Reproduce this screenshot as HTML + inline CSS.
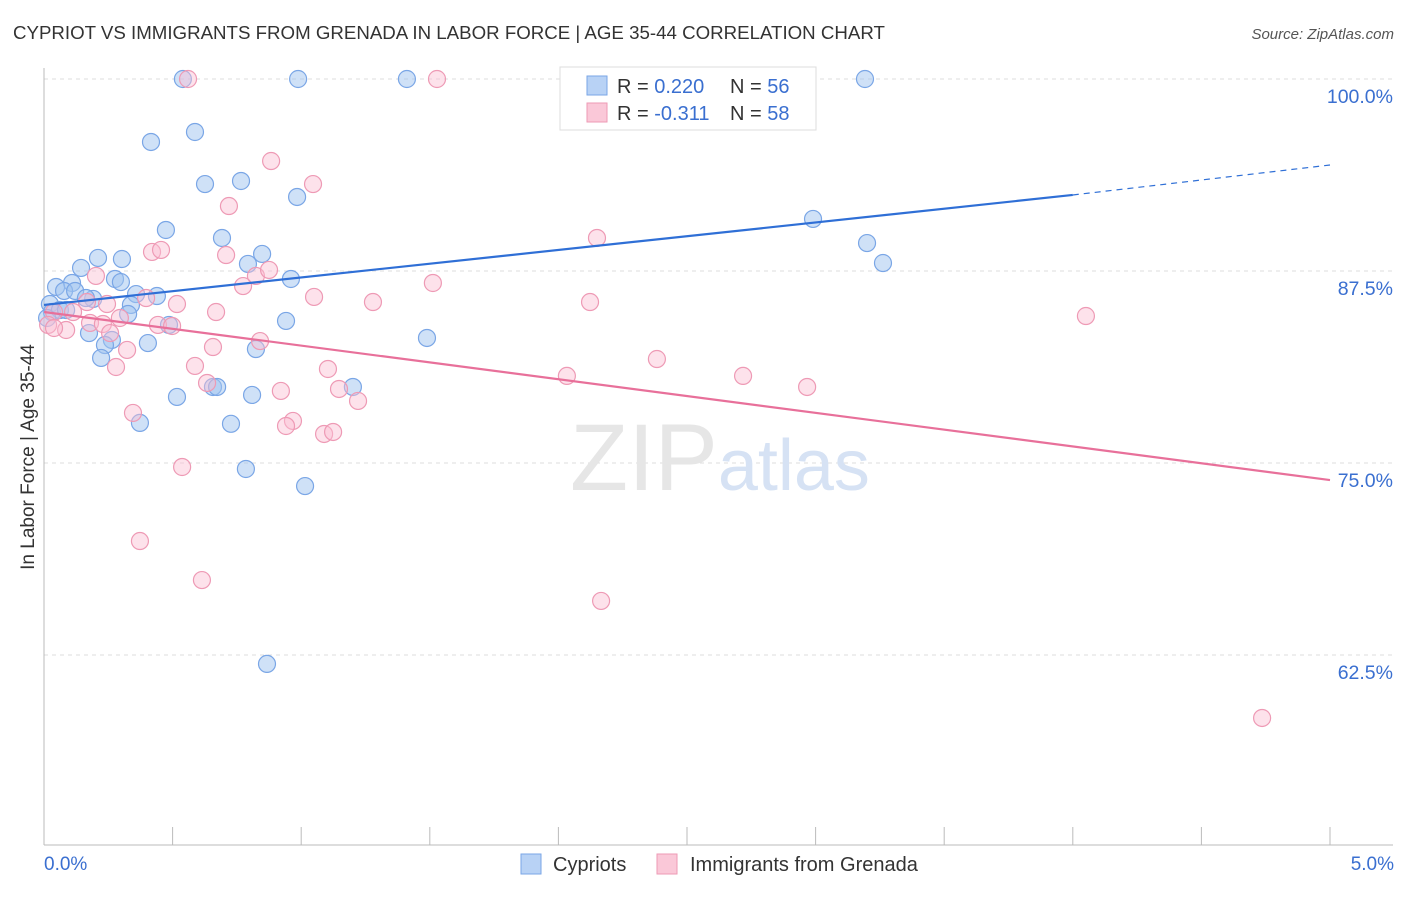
<!DOCTYPE html>
<html><head><meta charset="utf-8"><style>
body{margin:0;background:#fff;font-family:"Liberation Sans",sans-serif;}
svg text{font-family:"Liberation Sans",sans-serif;}
</style></head><body>
<svg id="chart" width="1406" height="892" xmlns="http://www.w3.org/2000/svg">
<text x="13" y="39" font-size="18.7" fill="#333">CYPRIOT VS IMMIGRANTS FROM GRENADA IN LABOR FORCE | AGE 35-44 CORRELATION CHART</text>
<text x="1394" y="39" font-size="15" fill="#555" text-anchor="end" font-style="italic">Source: ZipAtlas.com</text>
<g id="grid"></g>
<text x="720" y="490" font-size="95" text-anchor="middle" font-family="Liberation Serif" fill="#e6e6e6">ZIP<tspan fill="#d6e2f4" font-family="Liberation Sans" font-size="72">atlas</tspan></text>
<g id="axes"></g>
<g id="pts"></g>
<g id="lines"></g>
<text transform="translate(34,457) rotate(-90)" font-size="19" fill="#333" text-anchor="middle">In Labor Force | Age 35-44</text>
<text x="44" y="870" font-size="19" fill="#3a6fd0">0.0%</text>
<text x="1394" y="870" font-size="19" fill="#3a6fd0" text-anchor="end">5.0%</text>
<g>
<rect x="560" y="67" width="256" height="63" fill="#fff" stroke="#ddd"/>
<rect x="587" y="76" width="20" height="19" fill="#b8d2f5" stroke="#7aa6e6"/>
<text x="617" y="93" font-size="20" fill="#333">R = <tspan fill="#3a6fd0">0.220</tspan></text>
<text x="730" y="93" font-size="20" fill="#333">N = <tspan fill="#3a6fd0">56</tspan></text>
<rect x="587" y="103" width="20" height="19" fill="#fac8d8" stroke="#ee9ab5"/>
<text x="617" y="120" font-size="20" fill="#333">R = <tspan fill="#3a6fd0">-0.311</tspan></text>
<text x="730" y="120" font-size="20" fill="#333">N = <tspan fill="#3a6fd0">58</tspan></text>
</g>
<g>
<rect x="521" y="854" width="20" height="20" fill="#b8d2f5" stroke="#7aa6e6"/>
<text x="553" y="871" font-size="20" fill="#333">Cypriots</text>
<rect x="657" y="854" width="20" height="20" fill="#fac8d8" stroke="#ee9ab5"/>
<text x="690" y="871" font-size="20" fill="#333">Immigrants from Grenada</text>
</g>
</svg>
<script>
const yTicks=[100,87.5,75,62.5];
const yTickLabels=["100.0%","87.5%","75.0%","62.5%"];
const blueX=[0.540,0.988,1.411,3.192,0.416,0.587,0.626,0.766,0.984,0.474,0.692,0.848,0.210,0.303,0.144,0.793,0.960,0.276,0.299,0.109,0.047,0.078,0.121,0.191,0.163,0.358,0.439,0.338,0.327,0.023,0.031,0.062,0.086,0.486,0.175,0.941,0.264,0.404,0.237,0.222,0.824,1.489,0.657,0.673,1.201,0.517,0.809,0.373,0.727,0.785,1.015,0.867,2.990,3.200,3.262,0.012];
const blueY=[100,100,100,100,95.90,96.55,93.16,93.36,92.32,90.17,89.65,88.61,88.35,88.28,87.70,87.96,86.98,86.98,86.78,86.72,86.46,86.20,86.20,85.68,85.74,86.00,85.87,85.29,84.70,85.35,84.83,84.96,84.96,83.99,83.46,84.25,83.01,82.81,82.68,81.84,82.42,83.14,79.95,79.95,79.95,79.30,79.43,77.61,77.55,74.61,73.50,61.92,90.89,89.32,88.02,84.44];
const pinkX=[0.560,1.528,0.883,1.046,0.719,2.150,0.420,0.455,0.708,0.824,0.875,0.202,1.512,0.774,1.050,1.279,2.123,0.397,0.517,0.167,0.245,0.113,0.039,0.669,0.295,0.179,0.229,0.443,0.498,0.086,0.257,0.840,0.657,0.323,2.383,0.280,0.587,1.104,2.033,2.718,2.967,0.634,0.921,1.147,1.221,0.346,0.968,0.941,1.089,1.124,0.537,0.373,0.614,2.166,4.051,4.736,0.016,0.039];
const pinkY=[100,100,94.66,93.16,91.73,89.65,88.74,88.87,88.54,87.18,87.57,87.18,86.72,86.52,85.81,85.48,85.48,85.74,85.35,85.48,85.35,84.83,84.83,84.83,84.44,84.12,84.05,83.99,83.92,83.66,83.46,82.94,82.55,82.36,81.77,81.25,81.32,81.12,80.67,80.67,79.95,80.21,79.69,79.82,79.04,78.26,77.74,77.41,76.89,77.02,74.74,69.92,67.38,66.02,84.57,58.40,83.99,83.79];
const blueTrend=[[0,85.29],[4.0,92.45],[5.0,94.40]];
const pinkTrend=[[0,84.83],[5.0,73.89]];
const NS="http://www.w3.org/2000/svg";
const xs=v=>44+v/5*1286;
const ys=v=>79+(100-v)*15.36;
function mk(tag,attrs,parent){const e=document.createElementNS(NS,tag);for(const k in attrs)e.setAttribute(k,attrs[k]);parent.appendChild(e);return e;}
const grid=document.getElementById('grid'),axes=document.getElementById('axes'),pts=document.getElementById('pts'),lines=document.getElementById('lines');
yTicks.forEach((t,i)=>{
 const l=mk('line',{x1:44,x2:1393,y1:ys(t),y2:ys(t),stroke:'#ddd','stroke-dasharray':'4,4'},grid);
 
 
 const tx=mk('text',{x:1393,y:ys(t)+24,'font-size':19.5,fill:'#3a6fd0','text-anchor':'end'},grid);
 tx.textContent=yTickLabels[i];
 
 
});
mk('line',{x1:44,x2:44,y1:68,y2:845,stroke:'#bbb'},axes);
mk('line',{x1:44,x2:1393,y1:845,y2:845,stroke:'#bbb'},axes);
for(let i=0;i<=10;i++){
 const t=mk('line',{x1:xs(i*0.5),x2:xs(i*0.5),y1:827,y2:845,stroke:'#bbb'},axes);
 
 
}
blueX.forEach((x,i)=>{
 const c=mk('circle',{cx:xs(x),cy:ys(blueY[i]),r:8.5,fill:'rgba(160,195,240,0.5)',stroke:'#7aa6e6','stroke-width':1.2},pts);
 
 
});
pinkX.forEach((x,i)=>{
 const c=mk('circle',{cx:xs(x),cy:ys(pinkY[i]),r:8.5,fill:'rgba(250,190,210,0.45)',stroke:'#ee9ab5','stroke-width':1.2},pts);
 
 
});
const b1=mk('line',{x1:xs(blueTrend[0][0]),y1:ys(blueTrend[0][1]),x2:xs(blueTrend[1][0]),y2:ys(blueTrend[1][1]),stroke:'#2f6fd6','stroke-width':2.2},lines);


const b2=mk('line',{x1:xs(blueTrend[1][0]),y1:ys(blueTrend[1][1]),x2:xs(blueTrend[2][0]),y2:ys(blueTrend[2][1]),stroke:'#2f6fd6','stroke-width':1.2,'stroke-dasharray':'6,5'},lines);


const p1=mk('line',{x1:xs(pinkTrend[0][0]),y1:ys(pinkTrend[0][1]),x2:xs(pinkTrend[1][0]),y2:ys(pinkTrend[1][1]),stroke:'#e8709a','stroke-width':2.2},lines);


</script>
</body></html>
